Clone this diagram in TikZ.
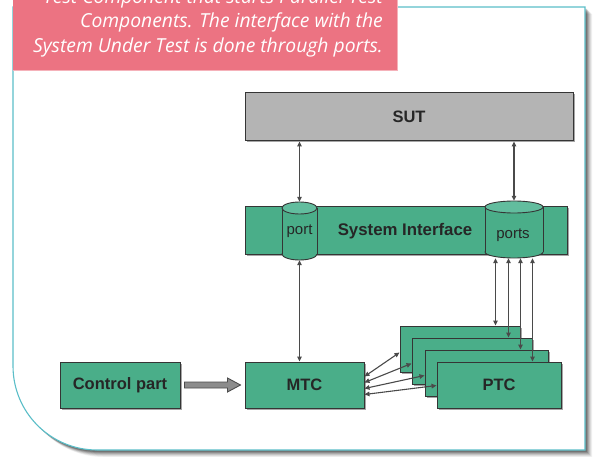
\documentclass[tikz,border=0pt]{standalone}
\usepackage{fontspec}
\setmainfont{Liberation Sans}
\newfontfamily\capfont{Open Sans}
\usetikzlibrary{arrows.meta,calc,shadows}
\definecolor{boxgreen}{HTML}{4AAE89}
\definecolor{topgreen}{HTML}{62BD9E}
\definecolor{sutgray}{HTML}{B4B4B4}
\definecolor{edgecol}{HTML}{353535}
\definecolor{linegray}{HTML}{4A4A4A}
\definecolor{pinkbg}{HTML}{EC7382}
\definecolor{framecol}{HTML}{5BBEC8}
\definecolor{arrowfill}{HTML}{8C8C8C}
\begin{document}
\begin{tikzpicture}[x=1pt,y=-1pt,
  gbox/.style={draw=edgecol, line width=1pt, fill=boxgreen, inner sep=0pt,
    font=\bfseries\fontsize{16.5}{18}\selectfont, text=black!85,
    drop shadow={shadow xshift=1.5pt, shadow yshift=-1.5pt, opacity=.35, fill=black}},
  sutbox/.style={gbox, fill=sutgray},
  cylbody/.style={fill=boxgreen},
  cylline/.style={draw=edgecol, line width=0.9pt},
  cyltop/.style={fill=topgreen, draw=edgecol, line width=0.9pt},
  portlbl/.style={inner sep=0pt, font=\fontsize{15}{17}\selectfont, text=black!85},
  conn/.style={draw=linegray, line width=1.1pt,
    {Triangle[length=5pt,width=4.5pt]}-{Triangle[length=5pt,width=4.5pt]}},
  blockarrow/.style={fill=arrowfill, draw=black!70, line width=0.9pt, line join=miter},
  capt/.style={inner sep=0pt, text=white, font=\capfont\itshape\fontsize{19.3}{22}\selectfont},
  ]
\useasboundingbox (0,0) rectangle (596,457);

% frame shadow
\foreach \k/\o in {7/0.06,6/0.08,5/0.1,4/0.13,3/0.16,2/0.2}{
  \fill[black,opacity=\o,shift={(\k,\k)}] (13,7) -- (585,7) -- (585,450) -- (97,450)
    .. controls (50.6,450) and (13,412.6) .. (13,366) -- cycle;
}
% frame
\filldraw[fill=white, draw=framecol, line width=1.1pt] (13,7) -- (585,7) -- (585,450) -- (97,450)
    .. controls (50.6,450) and (13,412.6) .. (13,366) -- cycle;

% caption box
\fill[pinkbg] (12.5,-2) rectangle (397,70);
\draw[pinkbg!55!white, line width=0.8pt] (12.5,70) -- (397,70) -- (397,-2);
\node[capt, anchor=base east] (cap1) at (383,4) {Test Component that starts Parallel Test};
\node[capt, anchor=base east] (cap2) at (383,28) {Components. The interface with the};
\node[capt, anchor=base east] (cap3) at (383,53) {System Under Test is done through ports.};

% SUT
\node[sutbox, minimum width=328, minimum height=48] (sut) at (409,117) {SUT};

% System interface band
\node[gbox, minimum width=322, minimum height=48] (sysif) at (406,230) {};
\node[inner sep=0pt, font=\bfseries\fontsize{16.8}{18}\selectfont, text=black!85] (siflbl) at (405,231) {System Interface};

% left cylinder
\filldraw[cylbody, cylline] (299.5,254) ellipse[x radius=17.5pt, y radius=6pt];
\fill[cylbody] (282,208) rectangle (317,254);
\draw[cylline] (282,208) -- (282,254) (317,208) -- (317,254);
\filldraw[cyltop] (299.5,208) ellipse[x radius=17.5pt, y radius=6pt];
\node[portlbl, minimum width=35, minimum height=58] (portL) at (299.5,231) {port};

% right cylinder
\filldraw[cylbody, cylline] (514,252) ellipse[x radius=29pt, y radius=6pt];
\fill[cylbody] (485,207) rectangle (543,252);
\draw[cylline] (485,207) -- (485,252) (543,207) -- (543,252);
\filldraw[cyltop] (514,207) ellipse[x radius=29pt, y radius=6pt];
\node[portlbl, minimum width=58, minimum height=57] (ports) at (514,229.5) {};
\node[portlbl] (portslbl) at (513,235) {ports};

% bottom row
\node[gbox, minimum width=120, minimum height=46] (ctrl) at (120,385) {Control part};
\node[gbox, minimum width=119, minimum height=46] (mtc) at (304.5,385) {MTC};
\node[gbox, minimum width=120, minimum height=46] (p1) at (460,349) {};
\node[gbox, minimum width=120, minimum height=46] (p2) at (472,361) {};
\node[gbox, minimum width=123, minimum height=46] (p3) at (486.5,373) {};
\node[gbox, minimum width=124, minimum height=46] (p4) at (499,385) {PTC};

% connectors SUT - ports
\draw[conn] (sut.south -| portL.north) -- (portL.north);
\draw[conn] (sut.south -| ports.north) -- (ports.north);
\draw[conn] (portL.south) -- (portL.south |- mtc.north);

% ports - PTCs
\coordinate (e1) at ($(p1.north east)+(-25,0)$);
\coordinate (e2) at ($(p2.north east)+(-24,0)$);
\coordinate (e3) at ($(p3.north east)+(-28,0)$);
\coordinate (e4) at ($(p4.north east)+(-29,0)$);
\draw[conn] (ports.south -| e1) -- (e1);
\draw[conn] (ports.south -| e2) -- (e2);
\draw[conn] (ports.south -| e3) -- (e3);
\draw[conn] (ports.south -| e4) -- (e4);

% MTC - PTCs
\draw[conn] ($(mtc.north east)+(0,15)$) -- ($(p1.north west)+(0,27)$);
\draw[conn] ($(mtc.north east)+(0,21)$) -- ($(p2.north west)+(0,26)$);
\draw[conn] ($(mtc.north east)+(0,27)$) -- ($(p3.north west)+(0,26)$);
\draw[conn] ($(mtc.north east)+(0,33)$) -- ($(p4.north west)+(0,24)$);

% control part -> MTC block arrow
\draw[blockarrow] ($(ctrl.east)+(4,-3)$) -- ($(mtc.west)+(-17,-3)$) -- ($(mtc.west)+(-17,-7)$)
  -- ($(mtc.west)+(-4,0)$) -- ($(mtc.west)+(-17,7)$) -- ($(mtc.west)+(-17,3)$)
  -- ($(ctrl.east)+(4,3)$) -- cycle;
\end{tikzpicture}
\end{document}
